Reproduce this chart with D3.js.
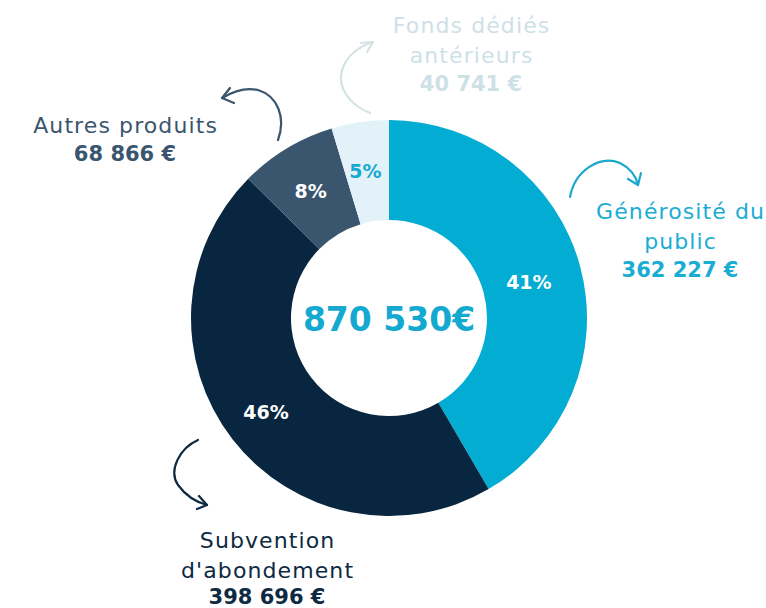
<!DOCTYPE html>
<html><head><meta charset="utf-8">
<script src="https://cdn.jsdelivr.net/npm/d3@7"></script>
<style>
html,body{margin:0;padding:0;background:#fff;}
svg text{font-family:"DejaVu Sans","Open Sans",sans-serif;}
</style></head>
<body>
<svg id="chart" width="766" height="608"></svg>
<script>
const categories = ["Générosité du public", "Subvention d'abondement", "Autres produits", "Fonds dédiés antérieurs"];
const labelLines = [["Générosité du", "public"], ["Subvention", "d'abondement"], ["Autres produits"], ["Fonds dédiés", "antérieurs"]];
const values = [362227, 398696, 68866, 40741];
const percentLabels = ["41%", "46%", "8%", "5%"];
const totalLabel = "870 530€";
const colors = ["#03acd3", "#08263f", "#3a566e", "#e3f2f9"];
const pctColors = ["#ffffff", "#ffffff", "#ffffff", "#14a9d0"];
const textColors = ["#1aadd3", "#0d2a42", "#3a566e", "#cde1e6"];

const svg = d3.select("#chart");
const cx = 389, cy = 318, rOuter = 198, rInner = 98;
const g = svg.append("g").attr("transform", `translate(${cx},${cy})`);

const pie = d3.pie().sort(null).value(d => d)(values);
const arc = d3.arc().innerRadius(rInner).outerRadius(rOuter);
const labelArc = d3.arc().innerRadius(rInner + 50).outerRadius(rInner + 50);

g.selectAll("path.slice").data(pie).join("path")
  .attr("class", "slice")
  .attr("d", arc)
  .attr("fill", (d, i) => colors[i]);

g.selectAll("text.pct").data(pie).join("text")
  .attr("class", "pct")
  .attr("transform", (d, i) => {
    const c = labelArc.centroid(d);
    const adj = [[-3, 3], [-6, 4], [-2, 0], [-2, 0]][i];
    return `translate(${c[0] + adj[0]},${c[1] + adj[1]})`;
  })
  .attr("text-anchor", "middle")
  .attr("dy", "0.35em")
  .attr("font-weight", 700)
  .attr("font-size", 19)
  .attr("fill", (d, i) => pctColors[i])
  .text((d, i) => percentLabels[i]);

g.append("text")
  .attr("text-anchor", "middle")
  .attr("y", 13)
  .attr("font-weight", 700)
  .attr("font-size", 33)
  .attr("fill", "#14a9d0")
  .text(totalLabel);

// External labels
const fmt = v => d3.format(",")(v).replace(/,/g, " ") + " €";
const labelPos = [
  {x: 680, y: 219},
  {x: 267, y: 548},
  {x: 125, y: 133},
  {x: 471, y: 33}
];
labelPos.forEach((p, i) => {
  const t = svg.append("text").attr("text-anchor", "middle").attr("fill", textColors[i]).attr("font-size", 22);
  labelLines[i].forEach((line, j) => {
    t.append("tspan").attr("x", p.x + 0.6).attr("y", p.y + j * 30)
      .attr("letter-spacing", 1.1).text(line);
  });
  t.append("tspan").attr("x", p.x).attr("y", p.y + labelLines[i].length * 30 - (i === 1 ? 4 : 2))
    .attr("font-weight", 700).attr("font-size", 21).text(fmt(values[i]));
});

// Hand-drawn arrows (decorations)
const arrows = [
  {i: 0, d: "M570,197 C575,170 600,155 620,163 C630,168 636,176 638,185", head: [[638,185],[628,179],[638,185],[641,173]]},
  {i: 1, d: "M198,440 C180,448 168,470 178,485 C186,496 196,502 207,505", head: [[207,505],[197,509],[207,505],[199,496]]},
  {i: 2, d: "M278,140 C286,118 278,96 258,90 C245,87 232,92 222,98", head: [[222,98],[234,103],[222,98],[230,88]]},
  {i: 3, d: "M370,113 C350,105 337,88 342,70 C347,55 360,46 373,42", head: [[373,42],[361,43],[373,42],[367,52]]}
];
const arrowColors = ["#1ba8cc", "#0d2a42", "#3a566e", "#d2e3e4"];
arrows.forEach(a => {
  svg.append("path").attr("d", a.d).attr("fill", "none")
    .attr("stroke", arrowColors[a.i]).attr("stroke-width", 2.2).attr("stroke-linecap", "round");
  const h = a.head;
  svg.append("path").attr("d", `M${h[1][0]},${h[1][1]} L${h[0][0]},${h[0][1]} L${h[3][0]},${h[3][1]}`)
    .attr("fill", "none").attr("stroke", arrowColors[a.i]).attr("stroke-width", 2.2)
    .attr("stroke-linecap", "round").attr("stroke-linejoin", "round");
});
</script>
</body></html>
